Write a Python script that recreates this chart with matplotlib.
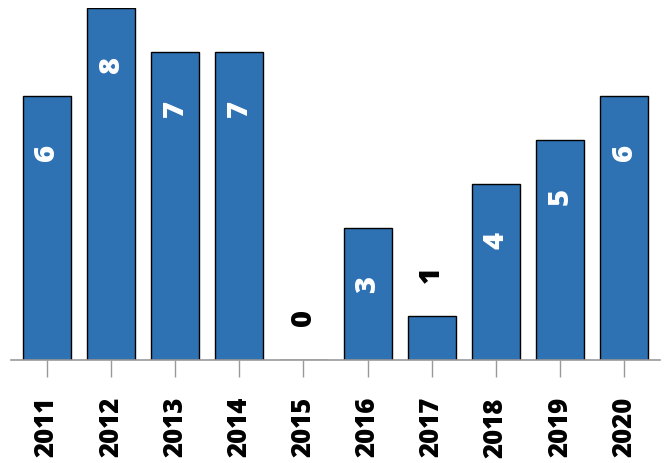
import matplotlib
matplotlib.use("Agg")
from matplotlib import pyplot as plt

years = ['2011', '2012', '2013', '2014', '2015', '2016', '2017', '2018', '2019', '2020']
counts = [6, 8, 7, 7, 0, 3, 1, 4, 5, 6]

plt.rcParams['font.family'] = ['Open Sans', 'DejaVu Sans']

fig = plt.figure(figsize=(6.65, 4.64), dpi=100)
ax = fig.add_axes([11 / 665, 1 - 361 / 464, 649 / 665, 352 / 464])

pos = list(range(len(years)))
ax.bar(pos, counts, width=0.75, color='#2e72b3', edgecolor='black', linewidth=1.0)

for x, v in zip(pos, counts):
    if v >= 2:
        ax.annotate(str(v), (x, v), xytext=(0, -40), textcoords='offset points',
                    rotation=90, ha='center', va='center', color='white',
                    fontsize=21, fontweight='heavy')
    else:
        ax.annotate(str(v), (x, v), xytext=(0, 31), textcoords='offset points',
                    rotation=90, ha='center', va='center', color='black',
                    fontsize=21, fontweight='heavy')

ax.set_xlim(-0.56, 9.56)
ax.set_ylim(0, 8)
ax.set_xticks(pos)
ax.set_xticklabels(years, rotation=90, fontsize=18.5, fontweight='heavy')
ax.tick_params(axis='x', length=12, width=1, color='#999999', pad=14)
ax.set_yticks([])
for s in ['top', 'right', 'left']:
    ax.spines[s].set_visible(False)
ax.spines['bottom'].set_color('#999999')
ax.spines['bottom'].set_linewidth(1.2)

fig.savefig('out.png', dpi=100)
